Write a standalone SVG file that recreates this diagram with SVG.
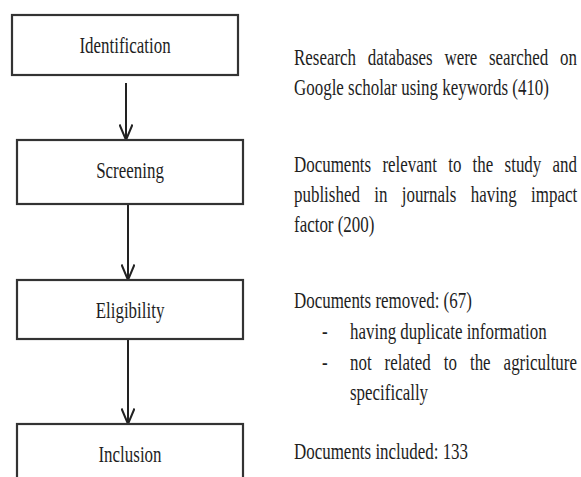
<svg xmlns="http://www.w3.org/2000/svg" width="581" height="477" viewBox="0 0 581 477">
  <style>
    .box { fill: #ffffff; stroke: #333333; stroke-width: 2.2; }
    .lbl { font-family: "Liberation Serif", "Times New Roman", serif; font-size: 24px; fill: #1e1e1e; text-anchor: middle; }
    .txt { font-family: "Liberation Serif", "Times New Roman", serif; font-size: 24px; fill: #1e1e1e; }
    .conn { fill: none; stroke: #222222; stroke-width: 2; marker-end: url(#vhead); }
  </style>
  <defs>
    <!-- open V arrowhead -->
    <marker id="vhead" viewBox="0 0 17 14" refX="16" refY="7" markerWidth="17" markerHeight="14" markerUnits="userSpaceOnUse" orient="auto">
      <path d="M0.5,0.5 L16,7 L0.5,13.5" fill="none" stroke="#222222" stroke-width="2"/>
    </marker>
  </defs>

  <rect width="581" height="477" fill="#ffffff"/>

  <!-- connectors -->
  <g id="connectors">
    <line class="conn" x1="126" y1="83" x2="126" y2="140"/>
    <line class="conn" x1="128" y1="205" x2="128" y2="280"/>
    <line class="conn" x1="128" y1="340" x2="128" y2="424"/>
  </g>

  <!-- stage boxes -->
  <g id="identification">
    <rect class="box" x="12" y="15" width="226" height="60"/>
    <text class="lbl" transform="translate(125 53) scale(0.706 1)">Identification</text>
  </g>
  <g id="screening">
    <rect class="box" x="17" y="140" width="226" height="64"/>
    <text class="lbl" transform="translate(130 178) scale(0.706 1)">Screening</text>
  </g>
  <g id="eligibility">
    <rect class="box" x="17" y="280" width="226" height="59"/>
    <text class="lbl" transform="translate(130 318) scale(0.706 1)">Eligibility</text>
  </g>
  <g id="inclusion">
    <rect class="box" x="17" y="424" width="226" height="70"/>
    <text class="lbl" transform="translate(130 462) scale(0.706 1)">Inclusion</text>
  </g>

  <!-- descriptions beside each stage (condensed, justified lines) -->
  <g id="identification-note">
    <text class="txt" transform="translate(294 65) scale(0.706 1)"><tspan x="0">Research</tspan><tspan x="104.5">databases</tspan><tspan x="213.1">were</tspan><tspan x="276.2">searched</tspan><tspan x="376.9">on</tspan></text>
    <text class="txt" transform="translate(294 95) scale(0.706 1)">Google scholar using keywords (410)</text>
  </g>
  <g id="screening-note">
    <text class="txt" transform="translate(294 172) scale(0.706 1)"><tspan x="0">Documents</tspan><tspan x="125.2">relevant</tspan><tspan x="218.5">to</tspan><tspan x="253">the</tspan><tspan x="298.3">study</tspan><tspan x="366.1">and</tspan></text>
    <text class="txt" transform="translate(294 202) scale(0.706 1)"><tspan x="0">published</tspan><tspan x="113.7">in</tspan><tspan x="152.6">journals</tspan><tspan x="250.3">having</tspan><tspan x="335.8">impact</tspan></text>
    <text class="txt" transform="translate(294 232) scale(0.706 1)">factor (200)</text>
  </g>
  <g id="eligibility-note">
    <text class="txt" transform="translate(294 308) scale(0.706 1)">Documents removed: (67)</text>
    <text class="txt" transform="translate(322 339) scale(0.706 1)">-</text>
    <text class="txt" transform="translate(350 339) scale(0.706 1)">having duplicate information</text>
    <text class="txt" transform="translate(322 370) scale(0.706 1)">-</text>
    <text class="txt" transform="translate(350 370) scale(0.706 1)"><tspan x="0">not</tspan><tspan x="49">related</tspan><tspan x="132.8">to</tspan><tspan x="169.9">the</tspan><tspan x="217.6">agriculture</tspan></text>
    <text class="txt" transform="translate(350 400) scale(0.706 1)">specifically</text>
  </g>
  <g id="inclusion-note">
    <text class="txt" transform="translate(294 459) scale(0.706 1)">Documents included: 133</text>
  </g>
</svg>
